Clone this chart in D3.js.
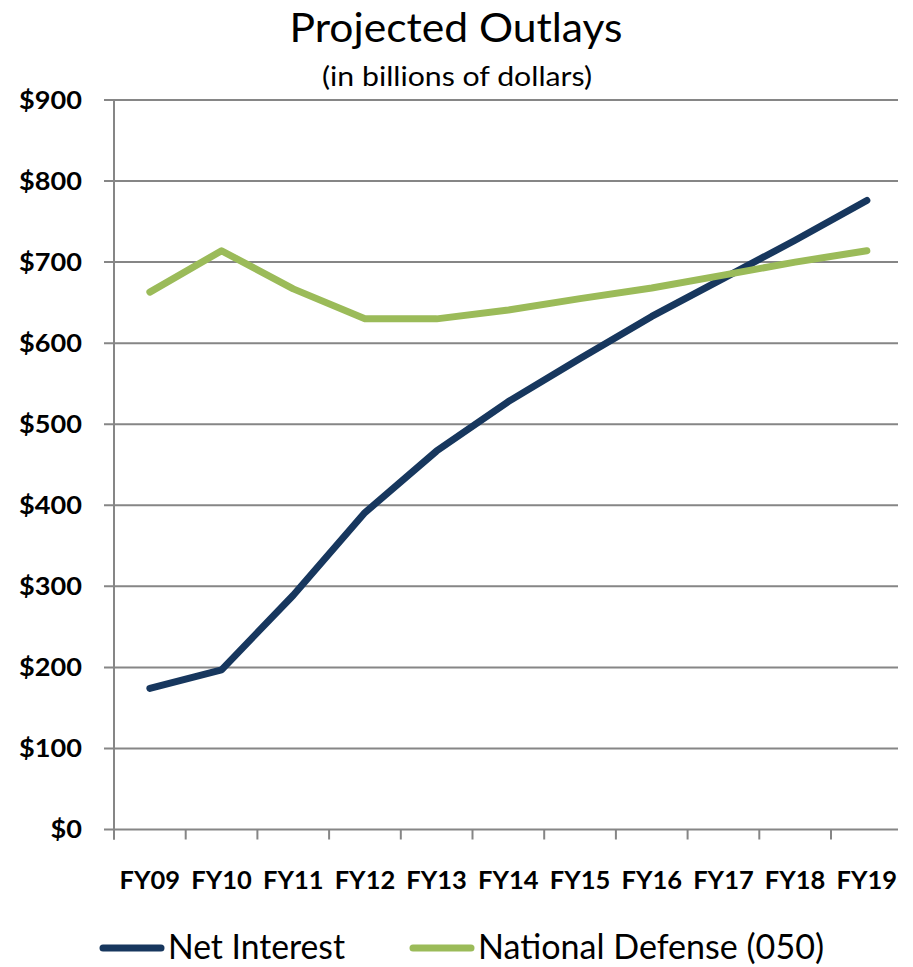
<!DOCTYPE html>
<html>
<head>
<meta charset="utf-8">
<script src="https://cdn.jsdelivr.net/npm/d3@7"></script>
<style>
  html, body { margin: 0; padding: 0; background: #fff; }
  text { font-family: Lato, "Open Sans", sans-serif; }
</style>
</head>
<body>
<svg id="chart" width="913" height="967"></svg>
<script>
const categories = ["FY09","FY10","FY11","FY12","FY13","FY14","FY15","FY16","FY17","FY18","FY19"];
const netInterest = [174, 197, 289, 391, 467, 528, 581, 633, 680, 727, 776];
const nationalDefense = [663, 714, 667, 630, 630, 641, 655, 668, 684, 700, 714];
const yTicks = [0, 100, 200, 300, 400, 500, 600, 700, 800, 900];
const seriesNames = ["Net Interest", "National Defense (050)"];
const seriesColors = ["#17375E", "#9BBB59"];

const svg = d3.select("#chart");
const plotLeft = 114, plotRight = 898, plotTop = 100, plotBottom = 829.5;

const x = d3.scaleBand().domain(categories).range([plotLeft, plotLeft + 11 * 71.7]);
const y = d3.scaleLinear().domain([0, 900]).range([plotBottom, plotTop]);
const gridColor = "#868686";

function stretch(sel, factor) {
  sel.each(function () {
    const w = this.getComputedTextLength();
    d3.select(this).attr("textLength", w * factor).attr("lengthAdjust", "spacingAndGlyphs");
  });
}
function fitTo(sel, width) {
  sel.attr("textLength", width).attr("lengthAdjust", "spacingAndGlyphs");
}

// gridlines
svg.append("g").selectAll("line").data(yTicks).join("line")
  .attr("x1", plotLeft - 10).attr("x2", plotRight)
  .attr("y1", d => y(d)).attr("y2", d => y(d))
  .attr("stroke", gridColor).attr("stroke-width", 2);

// y axis line
svg.append("line").attr("x1", plotLeft).attr("x2", plotLeft)
  .attr("y1", plotTop).attr("y2", plotBottom + 10)
  .attr("stroke", gridColor).attr("stroke-width", 2);

// x ticks at band starts
svg.append("g").selectAll("line").data(categories).join("line")
  .attr("x1", d => x(d)).attr("x2", d => x(d))
  .attr("y1", plotBottom).attr("y2", plotBottom + 10)
  .attr("stroke", gridColor).attr("stroke-width", 2);

// y labels
const yl = svg.append("g").selectAll("text").data(yTicks).join("text")
  .attr("x", 82).attr("y", d => y(d))
  .attr("dy", "0.36em")
  .attr("text-anchor", "end")
  .attr("font-weight", "bold")
  .attr("font-size", 24)
  .attr("fill", "#000")
  .text(d => "$" + d);
stretch(yl, 1.13);

// x labels
const xl = svg.append("g").selectAll("text").data(categories).join("text")
  .attr("x", d => x(d) + x.bandwidth() / 2).attr("y", 889)
  .attr("text-anchor", "middle")
  .attr("font-weight", "bold")
  .attr("font-size", 25)
  .attr("fill", "#000")
  .text(d => d);
stretch(xl, 1.02);

// lines
const line = d3.line()
  .x((d, i) => x(categories[i]) + x.bandwidth() / 2)
  .y(d => y(d));

[netInterest, nationalDefense].forEach((vals, i) => {
  svg.append("path").datum(vals)
    .attr("d", line)
    .attr("fill", "none")
    .attr("stroke", seriesColors[i])
    .attr("stroke-width", 7)
    .attr("stroke-linejoin", "round")
    .attr("stroke-linecap", "round");
});

// title
const t1 = svg.append("text").attr("x", 456).attr("y", 42)
  .attr("text-anchor", "middle").attr("font-size", 40).attr("fill", "#000")
  .text("Projected Outlays");
fitTo(t1, 333);
const t2 = svg.append("text").attr("x", 457).attr("y", 86)
  .attr("text-anchor", "middle").attr("font-size", 27).attr("fill", "#000")
  .text("(in billions of dollars)");
fitTo(t2, 270);

// legend
const legendX = [103, 413];
const legendW = [177, 346];
seriesNames.forEach((name, i) => {
  const g = svg.append("g");
  g.append("line").attr("x1", legendX[i]).attr("x2", legendX[i] + 58)
    .attr("y1", 948).attr("y2", 948)
    .attr("stroke", seriesColors[i]).attr("stroke-width", 7)
    .attr("stroke-linecap", "round");
  const tx = g.append("text").attr("x", legendX[i] + 65).attr("y", 959)
    .attr("font-size", 35).attr("fill", "#000")
    .text(name);
  fitTo(tx, legendW[i]);
});
</script>
</body>
</html>
